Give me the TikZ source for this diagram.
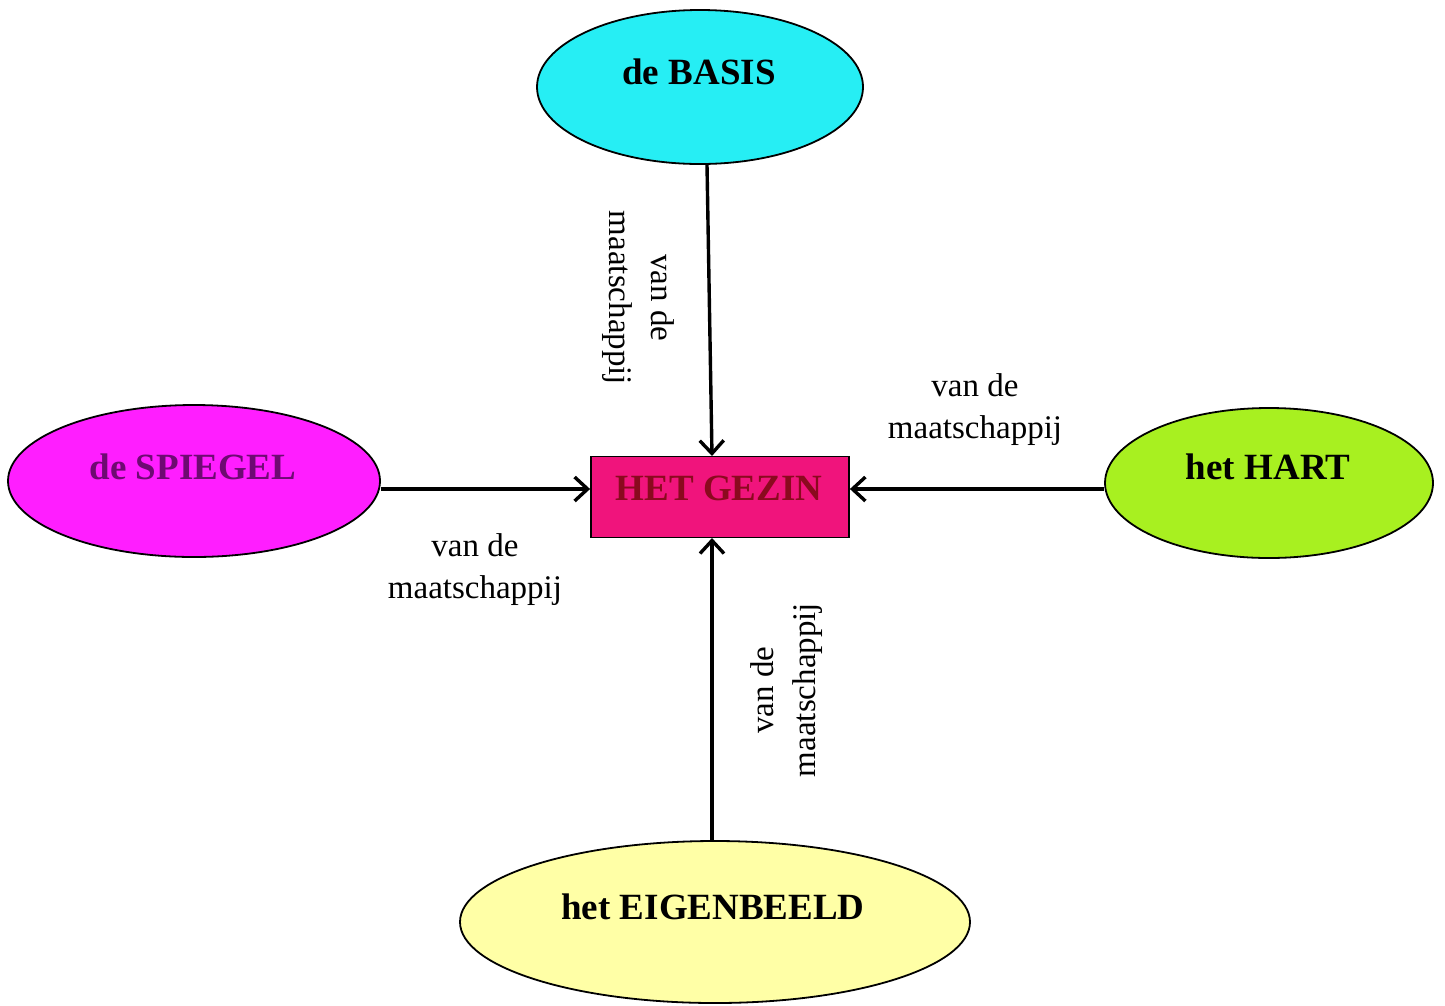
\documentclass[tikz,border=0pt]{standalone}
\usepackage{fontspec}
\setmainfont{Liberation Serif}
\usetikzlibrary{shapes.geometric,arrows.meta}
\definecolor{cbasis}{HTML}{26EEF4}
\definecolor{cspiegel}{HTML}{FF1EFF}
\definecolor{chart}{HTML}{A8F020}
\definecolor{ceigen}{HTML}{FFFFA6}
\definecolor{cgezin}{HTML}{F0147C}
\definecolor{cgezintxt}{HTML}{8A0A1E}
\definecolor{cspiegeltxt}{HTML}{6E0A72}
\begin{document}
\begin{tikzpicture}[x=1pt,y=-1pt,
  oval/.style={ellipse,draw=black,line width=1.8pt,inner sep=0pt},
  title/.style={font=\fontsize{37}{40}\selectfont\bfseries,inner sep=0pt},
  lbl/.style={font=\fontsize{33}{42}\selectfont,align=center,inner sep=0pt},
  arr/.style={line width=3.4pt,-{Straight Barb[length=13pt,width=24pt,line width=3.4pt]}}]
\useasboundingbox (0,0) rectangle (1445,1005);
\fill[white] (0,0) rectangle (1445,1005);
% ellipses
\node[oval,fill=cbasis,minimum width=326pt,minimum height=154pt] (basis) at (700,87) {};
\node[oval,fill=cspiegel,minimum width=372pt,minimum height=152pt] (spiegel) at (194,481) {};
\node[oval,fill=chart,minimum width=328pt,minimum height=150pt] (hart) at (1269,483) {};
\node[oval,fill=ceigen,minimum width=510pt,minimum height=162pt] (eigen) at (715,922) {};
% box
\node[draw=black,line width=1.8pt,fill=cgezin,minimum width=258pt,minimum height=81pt,inner sep=0pt] (gezin) at (720,497) {};
% titles
\node[title] (tbasis) at (699,72) {de BASIS};
\node[title,text=cspiegeltxt] (tspiegel) at (193,467) {de SPIEGEL};
\node[title] (thart) at (1268,467) {het HART};
\node[title] (teigen) at (713,907) {het EIGENBEELD};
\node[title,text=cgezintxt] (tgezin) at (719,488) {HET GEZIN};
% connector endpoints
\coordinate (ta) at (707,165);
\coordinate (tb) at (712,456);
\coordinate (ba) at (712,840);
\coordinate (bb) at (712,538);
\draw[arr] (ta) -- (tb);
\draw[arr] (ba) -- (bb);
\draw[arr] (spiegel.east |- 0,489) -- (gezin.west |- 0,489);
\draw[arr] (hart.west |- 0,489) -- (gezin.east |- 0,489);
% labels
\node[lbl,rotate=-90] (ltop) at (638,298) {van de\\maatschappij};
\node[lbl,rotate=90] (lbot) at (787,690) {van de\\maatschappij};
\node[lbl] (lleft) at (475,570) {van de\\maatschappij};
\node[lbl] (lright) at (975,410) {van de\\maatschappij};
\end{tikzpicture}
\end{document}
